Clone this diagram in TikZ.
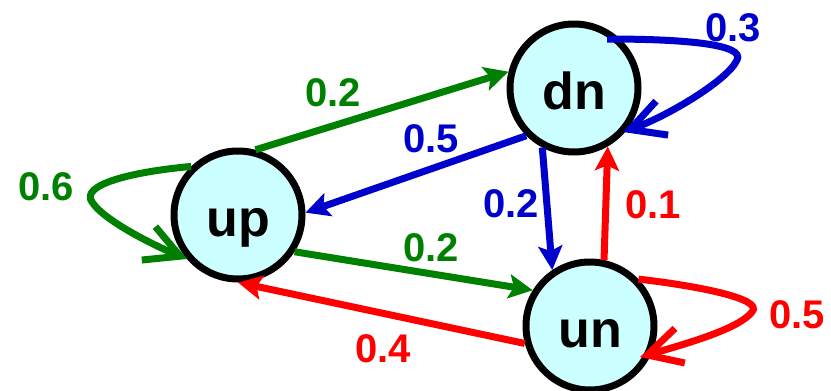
\documentclass[tikz,border=0pt]{standalone}
\usepackage{fontspec}
\setmainfont{Liberation Sans}
\usetikzlibrary{arrows.meta}
\definecolor{gr}{RGB}{0,128,0}
\definecolor{bl}{RGB}{0,0,204}
\definecolor{rd}{RGB}{255,0,0}
\definecolor{statefill}{RGB}{204,255,255}
\tikzset{
  state/.style={circle, draw=black, line width=7pt, fill=statefill,
    minimum size=128pt, inner sep=0pt, text height=42pt, text depth=0pt,
    font=\fontsize{52}{52}\selectfont\bfseries},
  lbl/.style={inner sep=0pt, font=\fontsize{40}{40}\selectfont\bfseries},
  edge/.style={line width=7pt, -{Stealth[length=24pt,width=24pt,inset=5pt]}},
  loopedge/.style={line width=7pt, -{Straight Barb[length=34pt,width=36pt]}},
}
\begin{document}
\begin{tikzpicture}[x=1pt,y=-1pt]
\useasboundingbox (0,0) rectangle (831,391);

% states
\node[state] (up) at (238,215) {up};
\node[state] (dn) at (574,88) {dn};
\node[state] (un) at (590,326) {un};

% transitions between states
\draw[edge, gr] (up.75) -- (dn.166);
\draw[edge, bl] (dn.225) -- (up.2);
\draw[edge, gr] (up.327) -- (un.148);
\draw[edge, rd] (un.195) -- (up.270);
\draw[edge, bl] (dn.242) -- (un.124);
\draw[edge, rd] (un.78) -- (dn.300);

% self loops
\coordinate (dnloop) at (737,60);
\coordinate (unloop) at (752,312);
\coordinate (uploop) at (92,202);
\draw[loopedge, bl] ([shift={(33,-49)}]dn.center)
  .. controls (690,39) and (745,45) .. (dnloop)
  .. controls (728,80) and (668,116) .. ([shift={(49,44)}]dn.center);
\draw[loopedge, rd] (un.44)
  .. controls (690,285) and (765,298) .. (unloop)
  .. controls (740,327) and (700,340) .. ([shift={(50,31)}]un.center);
\draw[loopedge, gr] (up.134)
  .. controls (130,172) and (80,185) .. (uploop)
  .. controls (105,222) and (160,248) .. ([shift={(-51,44)}]up.center);

% probabilities
\node[lbl, gr] (p1) at (333,93) {0.2};
\node[lbl, bl] (p2) at (431,139) {0.5};
\node[lbl, gr] (p3) at (46,187) {0.6};
\node[lbl, bl] (p4) at (511,204) {0.2};
\node[lbl, rd] (p5) at (653,205) {0.1};
\node[lbl, gr] (p6) at (431,248) {0.2};
\node[lbl, rd] (p7) at (383,349) {0.4};
\node[lbl, rd] (p8) at (797,315) {0.5};
\node[lbl, bl] (p9) at (733,28) {0.3};
\end{tikzpicture}
\end{document}
